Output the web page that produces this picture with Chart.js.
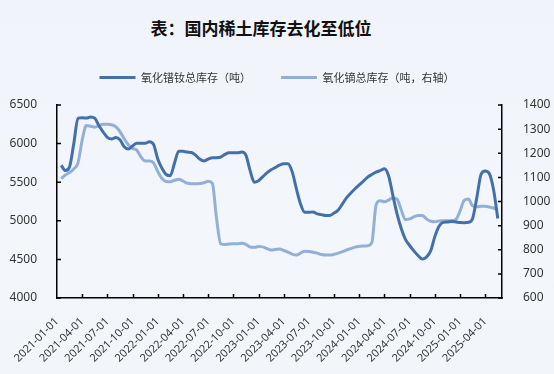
<!DOCTYPE html>
<html>
<head>
<meta charset="utf-8">
<script src="https://cdn.jsdelivr.net/npm/chart.js@4"></script>
<style>
  html, body { margin: 0; padding: 0; }
  body {
    width: 554px; height: 374px; overflow: hidden;
    background: linear-gradient(180deg, #f0f4fa 0%, #f3f7fc 60%, #f2f6fb 100%);
  }
  #wrap { position: relative; width: 554px; height: 374px; }
  #title {
    position: absolute; left: 0; top: 15px; width: 522px;
    text-align: center; font: bold 17px "Noto Sans CJK SC", sans-serif; color: #111;
  }
  canvas { position: absolute; left: 0; top: 0; }
</style>
</head>
<body>
<div id="wrap">
  <div id="title">表：国内稀土库存去化至低位</div>
  <canvas id="stockChart" width="554" height="374"></canvas>
</div>
<script>
// half-month categories, 2021-01-01 .. 2025-06-01
const dates = [];
for (let m = 0; m < 53; m++) {
    const y = 2021 + Math.floor(m / 12);
    const mm = String(m % 12 + 1).padStart(2, '0');
    dates.push(`${y}-${mm}-01`, `${y}-${mm}-16`);
}
dates.push('2025-06-01');

const quarterLabels = [
    '2021-01-01', '2021-04-01', '2021-07-01', '2021-10-01',
    '2022-01-01', '2022-04-01', '2022-07-01', '2022-10-01',
    '2023-01-01', '2023-04-01', '2023-07-01', '2023-10-01',
    '2024-01-01', '2024-04-01', '2024-07-01', '2024-10-01',
    '2025-01-01', '2025-04-01'
];

// 氧化镨钕总库存（吨）- left axis
const prndStock = [
    null, 5720, 5650, 5700, 6000, 6330, 6335, 6330, 6345, 6330,
    6230, 6150, 6080, 6060, 6080, 6050, 5960, 5930, 5970, 6005,
    6005, 6005, 6025, 5990, 5800, 5680, 5600, 5585, 5750, 5900,
    5900, 5890, 5885, 5850, 5800, 5775, 5800, 5818, 5818, 5825,
    5860, 5880, 5880, 5880, 5890, 5850, 5650, 5500, 5520, 5570,
    5620, 5660, 5690, 5720, 5740, 5740, 5640, 5420, 5220, 5110,
    5110, 5115, 5090, 5080, 5070, 5070, 5100, 5140, 5220, 5300,
    5360, 5415, 5465, 5515, 5565, 5600, 5630, 5650, 5675, 5580,
    5330, 5090, 4900, 4760, 4680, 4610, 4550, 4505, 4530, 4610,
    4795, 4930, 4980, 4985, 4990, 4985, 4978, 4976, 4980, 5030,
    5300, 5600, 5645, 5610, 5400, 5030, null
];

// 氧化镝总库存（吨，右轴）
const dyStock = [
    null, 1095, 1110, 1120, 1135, 1160, 1255, 1315, 1312, 1308,
    1315, 1320, 1320, 1318, 1310, 1290, 1260, 1235, 1220, 1213,
    1185, 1168, 1168, 1160, 1125, 1095, 1083, 1082, 1088, 1092,
    1085, 1076, 1074, 1074, 1075, 1078, 1084, 1075, 930, 825,
    822, 824, 825, 825, 827, 822, 811, 810, 813, 812,
    805, 799, 801, 803, 797, 790, 782, 778, 786, 794,
    793, 790, 786, 780, 778, 778, 781, 786, 792, 799,
    805, 811, 814, 816, 817, 830, 985, 1003, 999, 1006,
    1015, 1010, 965, 925, 928, 936, 942, 942, 928, 918,
    916, 919, 920, 920, 921, 925, 960, 1005, 1010, 982,
    978, 980, 980, 977, 973, 965, null
];

const darkBlue = '#4470a9';
const lightBlue = '#94afd6';

// small inward tick marks like the original
const innerTicks = {
    id: 'innerTicks',
    afterDatasetsDraw(chart) {
        const { ctx, scales } = chart;
        ctx.save();
        ctx.strokeStyle = '#000';
        ctx.lineWidth = 1.5;
        ctx.beginPath();
        quarterLabels.forEach(q => {
            const i = dates.indexOf(q);
            if (i <= 0) return;
            const x = Math.round(scales.x.getPixelForValue(i)) + 0.5;
            ctx.moveTo(x, scales.x.top);
            ctx.lineTo(x, scales.x.top - 4);
        });
        scales.y.ticks.forEach(t => {
            const y = scales.y.getPixelForValue(t.value);
            ctx.moveTo(scales.y.right, y);
            ctx.lineTo(scales.y.right + 4, y);
        });
        scales.y1.ticks.forEach(t => {
            const y = scales.y1.getPixelForValue(t.value);
            ctx.moveTo(scales.y1.left, y);
            ctx.lineTo(scales.y1.left - 4, y);
        });
        ctx.stroke();
        ctx.restore();
    }
};

const tickFont = { family: '"Noto Sans", sans-serif', size: 12 };
const axisBorder = { display: true, color: '#000', width: 1.5 };

new Chart(document.getElementById('stockChart'), {
    type: 'line',
    data: {
        labels: dates,
        datasets: [{
            label: '氧化镨钕总库存（吨）',
            data: prndStock,
            yAxisID: 'y',
            borderColor: darkBlue,
            backgroundColor: darkBlue,
            borderWidth: 3,
            pointRadius: 0,
            cubicInterpolationMode: 'monotone',
            pointStyle: 'line'
        }, {
            label: '氧化镝总库存（吨，右轴）',
            data: dyStock,
            yAxisID: 'y1',
            borderColor: lightBlue,
            backgroundColor: lightBlue,
            borderWidth: 3,
            pointRadius: 0,
            cubicInterpolationMode: 'monotone',
            pointStyle: 'line'
        }]
    },
    options: {
        responsive: false,
        animation: false,
        layout: { padding: { top: 42, left: 0, right: 0, bottom: 0 } },
        plugins: {
            legend: {
                position: 'top',
                labels: {
                    usePointStyle: true,
                    pointStyleWidth: 36,
                    padding: 30,
                    color: '#333',
                    font: { family: '"Noto Sans CJK SC", sans-serif', size: 11 }
                }
            },
            // empty subtitle used only as a spacer between legend and plot
            subtitle: {
                display: true,
                text: '',
                weight: 500,
                padding: 0,
                font: { size: 12, lineHeight: 1 }
            },
            tooltip: { enabled: false }
        },
        scales: {
            x: {
                type: 'category',
                offset: false,
                grid: { display: false },
                border: axisBorder,
                ticks: {
                    autoSkip: false,
                    minRotation: 45,
                    maxRotation: 45,
                    padding: 9,
                    color: '#333',
                    font: { family: '"Noto Sans", sans-serif', size: 11 },
                    callback(value) {
                        const label = this.getLabelForValue(value);
                        return quarterLabels.includes(label) ? label : null;
                    }
                },
                afterFit(scale) { scale.height = 76; }
            },
            y: {
                position: 'left',
                min: 4000,
                max: 6500,
                grid: { display: false },
                border: axisBorder,
                ticks: { stepSize: 500, padding: 12, color: '#333', font: tickFont, callback: v => String(v) },
                afterFit(scale) { scale.width = 57; }
            },
            y1: {
                position: 'right',
                min: 600,
                max: 1400,
                grid: { display: false },
                border: axisBorder,
                ticks: { stepSize: 100, padding: 13, color: '#333', font: tickFont, callback: v => String(v) },
                afterFit(scale) { scale.width = 52; }
            }
        }
    },
    plugins: [innerTicks]
});
</script>
</body>
</html>
